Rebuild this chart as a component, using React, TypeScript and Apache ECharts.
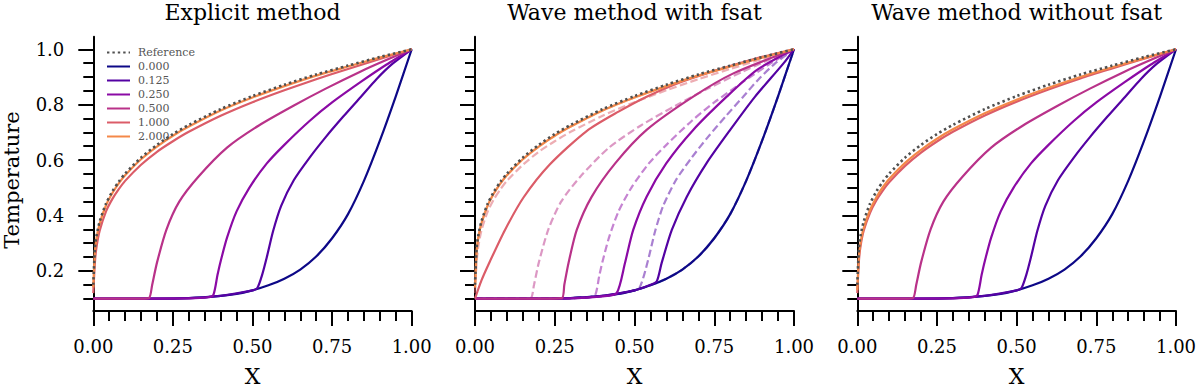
import React, { useEffect, useRef } from 'react';
import * as echarts from 'echarts';

// ---------- text / ticks ----------
const PANEL_TITLES = ['Explicit method', 'Wave method with fsat', 'Wave method without fsat'];
const X_LABEL = 'X';
const Y_LABEL = 'Temperature';
const REFERENCE_LABEL = 'Reference';
const TIME_LABELS = ['0.000', '0.125', '0.250', '0.500', '1.000', '2.000'];
const Y_MAJOR_TICKS = [0.2, 0.4, 0.6, 0.8, 1.0];
const Y_MINOR_TICKS = [0.1, 0.15, 0.25, 0.3, 0.35, 0.45, 0.5, 0.55, 0.65, 0.7, 0.75, 0.85, 0.9, 0.95];

// ---------- data: [x, temperature] ----------
const REFERENCE = [[0, 0.15], [0.005, 0.28], [0.01, 0.326], [0.02, 0.378], [0.04, 0.443], [0.06, 0.487], [0.08, 0.522], [0.1, 0.551], [0.15, 0.609], [0.2, 0.655], [0.25, 0.694], [0.3, 0.727], [0.4, 0.784], [0.5, 0.831], [0.6, 0.872], [0.7, 0.909], [0.8, 0.941], [0.9, 0.972], [1, 1]];

const T0000 = [[0, 0.1], [0.1, 0.1], [0.2, 0.1], [0.3, 0.102], [0.4, 0.11], [0.45, 0.117], [0.5, 0.13], [0.55, 0.148], [0.6, 0.172], [0.65, 0.205], [0.7, 0.252], [0.75, 0.318], [0.8, 0.405], [0.85, 0.525], [0.9, 0.67], [0.95, 0.83], [1, 1]];

// Explicit method
const EXPLICIT_T0125 = [[0, 0.1], [0.3, 0.102], [0.4, 0.11], [0.5, 0.13], [0.515, 0.138], [0.53, 0.185], [0.545, 0.25], [0.565, 0.345], [0.59, 0.435], [0.63, 0.528], [0.68, 0.61], [0.73, 0.683], [0.785, 0.757], [0.84, 0.828], [0.89, 0.893], [0.94, 0.948], [1, 1]];
const EXPLICIT_T0250 = [[0, 0.1], [0.3, 0.101], [0.36, 0.105], [0.377, 0.113], [0.39, 0.185], [0.4, 0.235], [0.42, 0.32], [0.45, 0.415], [0.49, 0.5], [0.545, 0.588], [0.6, 0.655], [0.68, 0.742], [0.75, 0.808], [0.84, 0.882], [0.92, 0.944], [1, 1]];
const EXPLICIT_T0500 = [[0, 0.1], [0.15, 0.1], [0.175, 0.102], [0.185, 0.15], [0.2, 0.23], [0.23, 0.35], [0.27, 0.45], [0.33, 0.54], [0.42, 0.645], [0.52, 0.725], [0.63, 0.797], [0.73, 0.858], [0.84, 0.92], [0.92, 0.961], [1, 1]];
const EXPLICIT_T1000 = [[0, 0.12], [0.005, 0.23], [0.01, 0.285], [0.02, 0.345], [0.04, 0.415], [0.06, 0.46], [0.08, 0.495], [0.1, 0.525], [0.15, 0.583], [0.2, 0.63], [0.25, 0.668], [0.3, 0.702], [0.4, 0.76], [0.5, 0.809], [0.6, 0.852], [0.7, 0.892], [0.8, 0.929], [0.9, 0.965], [1, 1]];
const EXPLICIT_T2000 = [[0, 0.14], [0.005, 0.27], [0.01, 0.318], [0.02, 0.371], [0.04, 0.437], [0.06, 0.481], [0.08, 0.516], [0.1, 0.545], [0.15, 0.603], [0.2, 0.649], [0.25, 0.688], [0.3, 0.721], [0.4, 0.779], [0.5, 0.826], [0.6, 0.867], [0.7, 0.905], [0.8, 0.938], [0.9, 0.97], [1, 1]];

// Wave method with fsat (solid)
const FSAT_T0125 = [[0, 0.1], [0.3, 0.102], [0.4, 0.11], [0.5, 0.13], [0.55, 0.15], [0.57, 0.163], [0.585, 0.228], [0.617, 0.348], [0.664, 0.468], [0.726, 0.589], [0.8, 0.709], [0.878, 0.829], [0.967, 0.949], [1, 1]];
const FSAT_T0250 = [[0, 0.1], [0.3, 0.101], [0.4, 0.108], [0.444, 0.12], [0.47, 0.228], [0.496, 0.348], [0.538, 0.468], [0.6, 0.589], [0.684, 0.709], [0.789, 0.829], [0.883, 0.925], [1, 1]];
const FSAT_T0500 = [[0, 0.1], [0.2, 0.1], [0.272, 0.102], [0.28, 0.15], [0.293, 0.228], [0.319, 0.348], [0.366, 0.468], [0.44, 0.589], [0.538, 0.709], [0.684, 0.829], [0.81, 0.913], [1, 1]];
const FSAT_T1000 = [[0, 0.1], [0.02, 0.165], [0.047, 0.235], [0.094, 0.348], [0.152, 0.465], [0.235, 0.585], [0.35, 0.705], [0.45, 0.775], [0.538, 0.829], [0.63, 0.875], [0.726, 0.913], [0.883, 0.967], [1, 1]];
const FSAT_T2000 = EXPLICIT_T2000;

// Wave method without fsat
const NOFSAT_T0125 = EXPLICIT_T0125;
const NOFSAT_T0250 = EXPLICIT_T0250;
const NOFSAT_T0500 = EXPLICIT_T0500;
const NOFSAT_T1000 = [[0, 0.12], [0.005, 0.235], [0.01, 0.288], [0.02, 0.345], [0.04, 0.41], [0.06, 0.455], [0.08, 0.49], [0.1, 0.52], [0.15, 0.579], [0.2, 0.627], [0.25, 0.667], [0.3, 0.702], [0.4, 0.761], [0.5, 0.811], [0.6, 0.855], [0.7, 0.895], [0.8, 0.931], [0.9, 0.966], [1, 1]];
const NOFSAT_T2000 = [[0, 0.13], [0.005, 0.25], [0.01, 0.3], [0.02, 0.355], [0.04, 0.42], [0.06, 0.466], [0.08, 0.502], [0.1, 0.532], [0.15, 0.59], [0.2, 0.637], [0.25, 0.677], [0.3, 0.711], [0.4, 0.769], [0.5, 0.818], [0.6, 0.861], [0.7, 0.9], [0.8, 0.935], [0.9, 0.968], [1, 1]];

const PANEL_SOLID = [
  [T0000, EXPLICIT_T0125, EXPLICIT_T0250, EXPLICIT_T0500, EXPLICIT_T1000, EXPLICIT_T2000],
  [T0000, FSAT_T0125, FSAT_T0250, FSAT_T0500, FSAT_T1000, FSAT_T2000],
  [T0000, NOFSAT_T0125, NOFSAT_T0250, NOFSAT_T0500, NOFSAT_T1000, NOFSAT_T2000],
];
// dashed comparison curves in the middle panel
const PANEL_DASHED = [
  null,
  [T0000, EXPLICIT_T0125, EXPLICIT_T0250, EXPLICIT_T0500, EXPLICIT_T1000, EXPLICIT_T2000],
  null,
];

// ---------- styles ----------
const COLORS = ['#0d0887', '#5402a3', '#8b0aa5', '#b93289', '#db5c68', '#f48849'];
const FONT = '"DejaVu Serif", "Liberation Serif", serif';
const GRID_LEFT = [93.3, 475, 857.3];
const GRID_WIDTH = [318.4, 319, 318.7];
const GRID_TOP = 36.8;
const GRID_HEIGHT = 274.3;
const Y_MIN = 0.055;
const Y_MAX = 1.045;
const SMOOTH = 0.25;

function buildOption() {
  const grid: any[] = [];
  const xAxis: any[] = [];
  const yAxis: any[] = [];
  const series: any[] = [];
  const graphic: any[] = [];
  const black = { color: '#000', width: 2 };

  for (let p = 0; p < 3; p++) {
    grid.push({ left: GRID_LEFT[p], width: GRID_WIDTH[p], top: GRID_TOP, height: GRID_HEIGHT, containLabel: false });
    xAxis.push({
      gridIndex: p, type: 'value', min: 0, max: 1, interval: 0.25,
      axisLine: { show: true, onZero: false, lineStyle: black },
      axisTick: { show: true, length: 15, lineStyle: black },
      minorTick: { show: true, splitNumber: 5, length: 10, lineStyle: black },
      splitLine: { show: false }, minorSplitLine: { show: false },
      axisLabel: { margin: 26, fontSize: 18, fontFamily: FONT, color: '#000', formatter: (v: number) => v.toFixed(2), hideOverlap: false, showMinLabel: true, showMaxLabel: true },
    });
    yAxis.push({
      gridIndex: p, type: 'value', min: Y_MIN, max: Y_MAX, position: 'left',
      axisLine: { show: true, onZero: false, lineStyle: black },
      axisTick: { show: true, length: 15, lineStyle: black, customValues: Y_MAJOR_TICKS },
      axisLabel: { show: p === 0, customValues: Y_MAJOR_TICKS, margin: 29, fontSize: 18, fontFamily: FONT, color: '#000', formatter: (v: number) => v.toFixed(1) },
      splitLine: { show: false },
    });
    yAxis.push({
      gridIndex: p, type: 'value', min: Y_MIN, max: Y_MAX, position: 'left',
      axisLine: { show: false },
      axisTick: { show: true, length: 10, lineStyle: black, customValues: Y_MINOR_TICKS },
      axisLabel: { show: false },
      splitLine: { show: false },
    });

    const dashed = PANEL_DASHED[p];
    if (dashed) {
      dashed.forEach((d, i) => {
        series.push({
          type: 'line', name: TIME_LABELS[i] + ' (explicit)', xAxisIndex: p, yAxisIndex: 2 * p,
          data: d, showSymbol: false, symbol: 'none', smooth: SMOOTH,
          lineStyle: { color: COLORS[i], width: 2.2, type: [7.5, 3.5], opacity: 0.5 },
          itemStyle: { color: COLORS[i] }, z: 2, silent: true,
        });
      });
    }
    PANEL_SOLID[p].forEach((d, i) => {
      series.push({
        type: 'line', name: TIME_LABELS[i], xAxisIndex: p, yAxisIndex: 2 * p,
        data: d, showSymbol: false, symbol: 'none', smooth: SMOOTH,
        lineStyle: { color: COLORS[i], width: 2.2 },
        itemStyle: { color: COLORS[i] }, z: 3, silent: true,
      });
    });
    series.push({
      type: 'line', name: REFERENCE_LABEL, xAxisIndex: p, yAxisIndex: 2 * p,
      data: REFERENCE, showSymbol: false, symbol: 'none', smooth: SMOOTH,
      lineStyle: { color: '#505050', width: 2.6, type: [2.4, 3] },
      itemStyle: { color: '#505050' }, z: 4, silent: true,
    });

    const cx = GRID_LEFT[p] + GRID_WIDTH[p] / 2;
    graphic.push({
      type: 'text', x: cx, y: 12.5,
      style: { text: PANEL_TITLES[p], font: `22px ${FONT}`, fill: '#000', align: 'center', verticalAlign: 'middle' },
    });
    graphic.push({
      type: 'text', x: cx, y: 376.5,
      style: { text: X_LABEL, font: `22px ${FONT}`, fill: '#000', align: 'center', verticalAlign: 'middle' },
    });
  }
  graphic.push({
    type: 'text', x: 12, y: 180, rotation: Math.PI / 2,
    style: { text: Y_LABEL, font: `21px ${FONT}`, fill: '#000', align: 'center', verticalAlign: 'middle' },
  });

  return {
    animation: false,
    backgroundColor: '#fff',
    grid, xAxis, yAxis, series, graphic,
    legend: {
      data: [REFERENCE_LABEL, ...TIME_LABELS],
      orient: 'vertical', left: 101, top: 42,
      itemWidth: 23, itemHeight: 12, itemGap: 3,
      selectedMode: false,
      itemStyle: { opacity: 0 },
      textStyle: { fontFamily: FONT, fontSize: 11, color: '#555', padding: [0, 0, 0, 3] },
    },
  };
}

export default function App() {
  const ref = useRef<HTMLDivElement>(null);
  useEffect(() => {
    if (!ref.current) return;
    const chart = echarts.init(ref.current, undefined, { renderer: 'svg' });
    chart.setOption(buildOption() as any);
    return () => chart.dispose();
  }, []);
  return <div ref={ref} style={{ position: 'absolute', left: 0, top: 0, width: 1200, height: 388, background: '#fff' }} />;
}
